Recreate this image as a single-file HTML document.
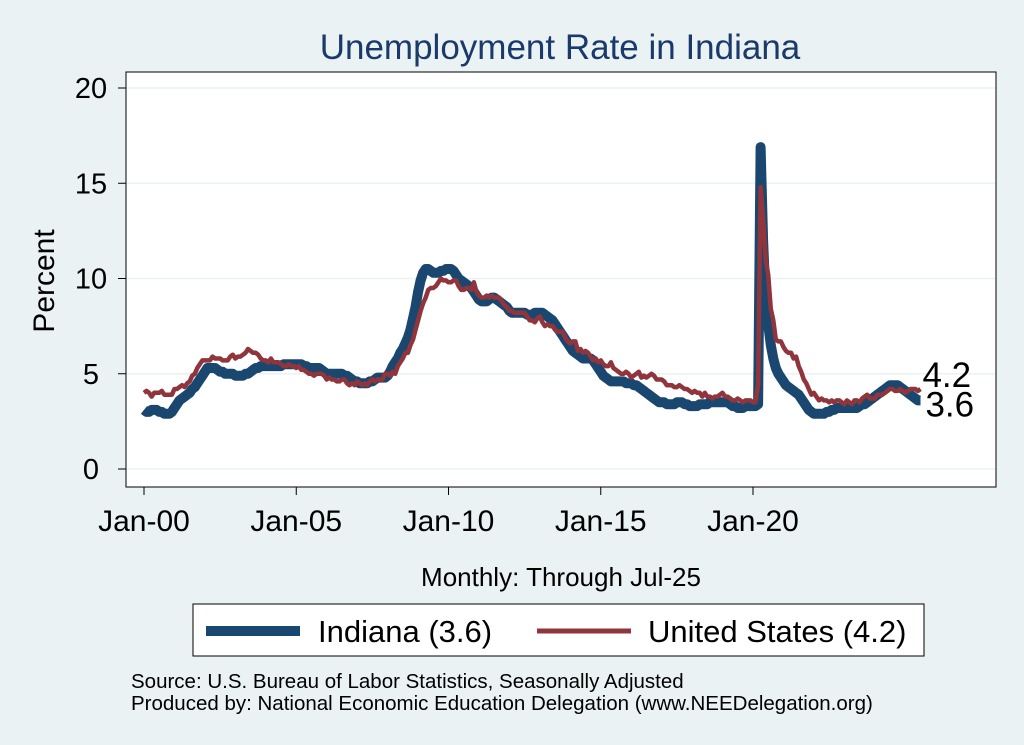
<!DOCTYPE html>
<html><head><meta charset="utf-8"><style>
body{margin:0;background:#eaf2f3;font-family:"Liberation Sans",sans-serif}
svg{display:block}
</style></head><body>
<svg width="1024" height="745" viewBox="0 0 1024 745">
<rect x="0" y="0" width="1024" height="745" fill="#eaf2f3"/>
<text x="560" y="59" text-anchor="middle" font-size="35" fill="#1a3a6a">Unemployment Rate in Indiana</text>
<rect x="126" y="72" width="870" height="415" fill="#fff" stroke="#000" stroke-width="1"/>
<g id="grid"></g>
<g id="yaxis"></g>
<g id="xaxis"></g>
<g id="series"></g>
<text transform="translate(54,281) rotate(-90)" text-anchor="middle" font-size="30" fill="#000">Percent</text>
<text x="561" y="586" text-anchor="middle" font-size="26" fill="#000">Monthly: Through Jul-25</text>
<rect x="193" y="604" width="731" height="52" fill="#fff" stroke="#000" stroke-width="1"/>
<g>
<line x1="206" y1="631" x2="300" y2="631" stroke="#1a476f" stroke-width="10"/>
<text x="318" y="642" font-size="31" fill="#000">Indiana (3.6)</text></g>
<g>
<line x1="537" y1="631" x2="631" y2="631" stroke="#90353b" stroke-width="5"/>
<text x="648" y="642" font-size="31" fill="#000">United States (4.2)</text></g>
<text x="131" y="688" font-size="20.5" fill="#000">Source: U.S. Bureau of Labor Statistics, Seasonally Adjusted</text>
<text x="131" y="710" font-size="20.5" fill="#000">Produced by: National Economic Education Delegation (www.NEEDelegation.org)</text>
</svg>
<script>
const yTicks=[0,5,10,15,20];
const xTickLabels=["Jan-00","Jan-05","Jan-10","Jan-15","Jan-20"];
const xTickMonths=[0,60,120,180,240];
const usRate=[4.0,4.1,4.0,3.8,4.0,4.0,4.0,4.1,3.9,3.9,3.9,3.9,
4.2,4.2,4.3,4.4,4.3,4.5,4.6,4.9,5.0,5.3,5.5,5.7,
5.7,5.7,5.7,5.9,5.8,5.8,5.8,5.7,5.7,5.7,5.9,6.0,
5.8,5.9,5.9,6.0,6.1,6.3,6.2,6.1,6.1,6.0,5.8,5.7,
5.7,5.6,5.8,5.6,5.6,5.6,5.5,5.4,5.4,5.5,5.4,5.4,
5.3,5.4,5.2,5.2,5.1,5.0,5.0,4.9,5.0,5.0,5.0,4.9,
4.7,4.8,4.7,4.7,4.6,4.6,4.7,4.7,4.5,4.4,4.5,4.4,
4.6,4.5,4.4,4.5,4.4,4.6,4.7,4.6,4.7,4.7,4.7,5.0,
5.0,4.9,5.1,5.0,5.4,5.6,5.8,6.1,6.1,6.5,6.8,7.3,
7.8,8.3,8.7,9.0,9.4,9.5,9.5,9.6,9.8,10.0,9.9,9.9,
9.8,9.8,9.9,9.9,9.6,9.4,9.4,9.5,9.5,9.4,9.8,9.3,
9.1,9.0,9.0,9.1,9.0,9.1,9.0,9.0,9.0,8.8,8.6,8.5,
8.3,8.3,8.2,8.2,8.2,8.2,8.2,8.0,7.8,7.8,7.7,7.9,
8.0,7.7,7.5,7.6,7.5,7.5,7.3,7.2,7.2,7.2,6.9,6.7,
6.6,6.7,6.7,6.2,6.3,6.1,6.2,6.1,5.9,5.7,5.8,5.6,
5.7,5.5,5.4,5.4,5.6,5.3,5.2,5.1,5.0,5.0,5.1,5.0,
4.8,4.9,5.0,5.1,4.8,4.9,4.8,4.9,5.0,4.9,4.7,4.7,
4.7,4.6,4.4,4.4,4.4,4.3,4.3,4.4,4.3,4.2,4.2,4.1,
4.0,4.1,4.0,4.0,3.8,4.0,3.8,3.8,3.7,3.8,3.8,3.9,
4.0,3.8,3.8,3.7,3.6,3.6,3.7,3.6,3.5,3.6,3.6,3.6,
3.5,3.5,4.4,14.8,13.2,11.0,10.2,8.4,7.8,6.8,6.7,6.7,
6.4,6.2,6.1,6.1,5.8,5.9,5.4,5.1,4.7,4.5,4.2,3.9,
4.0,3.8,3.6,3.7,3.6,3.6,3.5,3.6,3.5,3.6,3.6,3.5,
3.4,3.6,3.5,3.4,3.6,3.6,3.5,3.7,3.8,3.9,3.7,3.7,
3.7,3.9,3.9,3.9,4.0,4.1,4.2,4.2,4.1,4.1,4.2,4.1,
4.0,4.1,4.2,4.2,4.2,4.1,4.2];
const indianaRate=[3.1,3.0,3.0,3.1,3.1,3.1,3.0,3.0,2.9,2.9,2.9,3.0,
3.2,3.4,3.6,3.7,3.8,3.9,4.0,4.2,4.3,4.5,4.7,4.9,
5.1,5.3,5.3,5.3,5.3,5.2,5.1,5.1,5.0,5.0,5.0,5.0,
4.9,4.9,4.9,4.9,5.0,5.0,5.1,5.2,5.3,5.3,5.4,5.4,
5.4,5.4,5.4,5.4,5.4,5.4,5.4,5.5,5.5,5.5,5.5,5.5,
5.5,5.5,5.5,5.4,5.4,5.3,5.3,5.3,5.3,5.3,5.2,5.1,
5.0,5.0,5.0,5.0,5.0,5.0,5.0,4.9,4.9,4.8,4.7,4.6,
4.6,4.5,4.5,4.5,4.5,4.6,4.6,4.7,4.8,4.8,4.8,4.8,
4.9,5.1,5.4,5.6,5.8,6.1,6.3,6.6,6.9,7.3,7.9,8.5,
9.3,9.9,10.3,10.5,10.5,10.4,10.3,10.3,10.3,10.4,10.4,10.5,
10.5,10.5,10.4,10.2,10.0,9.9,9.8,9.7,9.6,9.5,9.3,9.1,
8.9,8.8,8.8,8.8,8.9,9.0,9.0,8.9,8.8,8.7,8.6,8.5,
8.3,8.2,8.2,8.2,8.2,8.2,8.2,8.1,8.1,8.1,8.2,8.2,
8.2,8.2,8.1,8.0,7.9,7.8,7.6,7.4,7.2,7.0,6.8,6.6,
6.4,6.2,6.1,6.0,5.9,5.8,5.8,5.8,5.8,5.7,5.5,5.3,
5.1,4.9,4.8,4.7,4.6,4.6,4.6,4.6,4.6,4.6,4.5,4.5,
4.5,4.4,4.4,4.3,4.2,4.1,4.0,3.9,3.8,3.7,3.6,3.5,
3.5,3.5,3.4,3.4,3.4,3.4,3.5,3.5,3.5,3.4,3.4,3.3,
3.3,3.3,3.3,3.4,3.4,3.4,3.4,3.5,3.5,3.5,3.5,3.5,
3.5,3.5,3.5,3.4,3.3,3.3,3.2,3.2,3.2,3.3,3.3,3.3,
3.3,3.3,3.4,16.9,12.0,8.8,7.6,6.5,5.8,5.3,5.0,4.8,
4.6,4.4,4.3,4.2,4.1,4.0,3.9,3.7,3.5,3.3,3.1,3.0,
2.9,2.9,2.9,2.9,2.9,3.0,3.0,3.1,3.1,3.2,3.2,3.2,
3.2,3.2,3.2,3.2,3.2,3.2,3.3,3.4,3.4,3.5,3.6,3.7,
3.8,3.9,4.0,4.1,4.2,4.3,4.4,4.4,4.4,4.4,4.3,4.2,
4.1,4.0,3.9,3.8,3.7,3.6,3.6];

const NS="http://www.w3.org/2000/svg";
function xs(m){return 144+m*(753-144)/240;}
function ys(v){return 469-v*(469-88)/20;}
function mk(tag,attrs,parent){const e=document.createElementNS(NS,tag);for(const k in attrs)e.setAttribute(k,attrs[k]);parent.appendChild(e);return e;}
const grid=document.getElementById('grid'),ya=document.getElementById('yaxis'),xa=document.getElementById('xaxis'),ser=document.getElementById('series');
yTicks.forEach(t=>{
  const g=mk('line',{x1:127,x2:995,y1:ys(t),y2:ys(t),stroke:'#eaf2f3','stroke-width':1.5},grid);
  
  
  const tk=mk('line',{x1:118,x2:126,y1:ys(t),y2:ys(t),stroke:'#000'},ya);
  
  
  const tx=mk('text',{x:91,y:ys(t)+10,'text-anchor':'middle','font-size':29},ya);
  tx.textContent=t;
  
  
});
xTickMonths.forEach((m,i)=>{
  const tk=mk('line',{x1:xs(m),x2:xs(m),y1:487,y2:495,stroke:'#000'},xa);
  
  
  const tx=mk('text',{x:xs(m),y:531,'text-anchor':'middle','font-size':30},xa);
  tx.textContent=xTickLabels[i];
  
  
});
function path(arr){return arr.map((v,i)=>(i?'L':'M')+xs(i).toFixed(1)+' '+ys(v).toFixed(1)).join(' ');}
const pi=mk('path',{d:path(indianaRate),fill:'none',stroke:'#1a476f','stroke-width':10,'stroke-linejoin':'round'},ser);


const pu=mk('path',{d:path(usRate),fill:'none',stroke:'#90353b','stroke-width':4.5,'stroke-linejoin':'round'},ser);


const lu=usRate.length-1,li=indianaRate.length-1;
const t1=mk('text',{x:xs(lu)+2,y:ys(usRate[lu])-2,'font-size':35},ser);
t1.textContent=usRate[lu].toFixed(1);


const t2=mk('text',{x:xs(li)+5,y:ys(indianaRate[li])+16,'font-size':35},ser);
t2.textContent=indianaRate[li].toFixed(1);


</script>
</body></html>
